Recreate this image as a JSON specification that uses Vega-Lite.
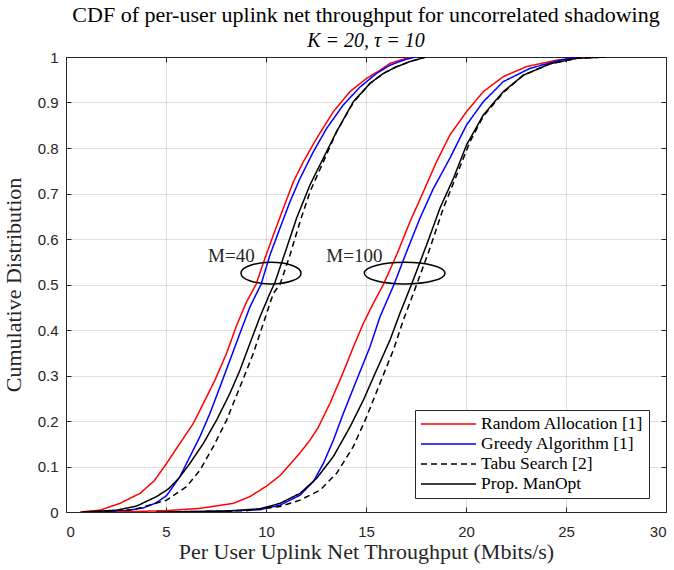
{
  "$schema": "https://vega.github.io/schema/vega-lite/v6.json",
  "width": 600,
  "height": 455,
  "autosize": {"type": "none"},
  "padding": {"left": 66, "top": 57, "right": 8, "bottom": 58},
  "background": "white",
  "title": {
    "text": "CDF of per-user uplink net throughput for uncorrelated shadowing",
    "subtitle": "K = 20, τ = 10",
    "anchor": "middle",
    "font": "Liberation Serif",
    "fontSize": 22,
    "fontWeight": "normal",
    "color": "#000000",
    "subtitleFont": "Liberation Serif",
    "subtitleFontSize": 20,
    "subtitleFontStyle": "italic",
    "subtitleColor": "#000000",
    "subtitlePadding": 4,
    "offset": -2
  },
  "config": {
    "view": {"stroke": null},
    "axis": {
      "grid": true,
      "gridColor": "#262626",
      "gridOpacity": 0.15,
      "gridWidth": 1,
      "domainColor": "#262626",
      "domainWidth": 1,
      "tickColor": "#262626",
      "tickSize": -5,
      "labelFont": "Liberation Sans",
      "labelFontSize": 15,
      "labelColor": "#262626",
      "titleFont": "Liberation Serif",
      "titleFontSize": 22,
      "titleFontWeight": "normal",
      "titleColor": "#262626"
    }
  },
  "layer": [
    {
      "data": {"values": [
        {"s":"Random Allocation [1]","M":40,"x":0.7,"y":0},{"s":"Random Allocation [1]","M":40,"x":1.7,"y":0.004},{"s":"Random Allocation [1]","M":40,"x":2.7,"y":0.019},{"s":"Random Allocation [1]","M":40,"x":3.7,"y":0.041},{"s":"Random Allocation [1]","M":40,"x":4.4,"y":0.068},{"s":"Random Allocation [1]","M":40,"x":5.0,"y":0.105},{"s":"Random Allocation [1]","M":40,"x":5.7,"y":0.151},{"s":"Random Allocation [1]","M":40,"x":6.37,"y":0.195},{"s":"Random Allocation [1]","M":40,"x":6.87,"y":0.239},{"s":"Random Allocation [1]","M":40,"x":7.45,"y":0.29},{"s":"Random Allocation [1]","M":40,"x":8.03,"y":0.349},{"s":"Random Allocation [1]","M":40,"x":8.53,"y":0.41},{"s":"Random Allocation [1]","M":40,"x":9.03,"y":0.462},{"s":"Random Allocation [1]","M":40,"x":9.5,"y":0.5},{"s":"Random Allocation [1]","M":40,"x":9.95,"y":0.558},{"s":"Random Allocation [1]","M":40,"x":10.37,"y":0.609},{"s":"Random Allocation [1]","M":40,"x":10.87,"y":0.668},{"s":"Random Allocation [1]","M":40,"x":11.37,"y":0.726},{"s":"Random Allocation [1]","M":40,"x":11.87,"y":0.77},{"s":"Random Allocation [1]","M":40,"x":12.53,"y":0.821},{"s":"Random Allocation [1]","M":40,"x":13.37,"y":0.88},{"s":"Random Allocation [1]","M":40,"x":14.2,"y":0.924},{"s":"Random Allocation [1]","M":40,"x":15.03,"y":0.953},{"s":"Random Allocation [1]","M":40,"x":15.7,"y":0.971},{"s":"Random Allocation [1]","M":40,"x":16.2,"y":0.986},{"s":"Random Allocation [1]","M":40,"x":17.0,"y":0.997},{"s":"Random Allocation [1]","M":40,"x":17.5,"y":1.0},
        {"s":"Greedy Algorithm [1]","M":40,"x":1.8,"y":0},{"s":"Greedy Algorithm [1]","M":40,"x":3.0,"y":0.003},{"s":"Greedy Algorithm [1]","M":40,"x":3.87,"y":0.009},{"s":"Greedy Algorithm [1]","M":40,"x":4.5,"y":0.02},{"s":"Greedy Algorithm [1]","M":40,"x":5.03,"y":0.036},{"s":"Greedy Algorithm [1]","M":40,"x":5.7,"y":0.078},{"s":"Greedy Algorithm [1]","M":40,"x":6.2,"y":0.122},{"s":"Greedy Algorithm [1]","M":40,"x":6.7,"y":0.166},{"s":"Greedy Algorithm [1]","M":40,"x":7.2,"y":0.217},{"s":"Greedy Algorithm [1]","M":40,"x":7.7,"y":0.275},{"s":"Greedy Algorithm [1]","M":40,"x":8.2,"y":0.334},{"s":"Greedy Algorithm [1]","M":40,"x":8.7,"y":0.393},{"s":"Greedy Algorithm [1]","M":40,"x":9.2,"y":0.451},{"s":"Greedy Algorithm [1]","M":40,"x":9.75,"y":0.5},{"s":"Greedy Algorithm [1]","M":40,"x":10.2,"y":0.565},{"s":"Greedy Algorithm [1]","M":40,"x":10.7,"y":0.624},{"s":"Greedy Algorithm [1]","M":40,"x":11.2,"y":0.682},{"s":"Greedy Algorithm [1]","M":40,"x":11.7,"y":0.733},{"s":"Greedy Algorithm [1]","M":40,"x":12.37,"y":0.792},{"s":"Greedy Algorithm [1]","M":40,"x":13.03,"y":0.843},{"s":"Greedy Algorithm [1]","M":40,"x":13.87,"y":0.895},{"s":"Greedy Algorithm [1]","M":40,"x":14.7,"y":0.934},{"s":"Greedy Algorithm [1]","M":40,"x":15.53,"y":0.964},{"s":"Greedy Algorithm [1]","M":40,"x":16.2,"y":0.982},{"s":"Greedy Algorithm [1]","M":40,"x":17.0,"y":0.995},{"s":"Greedy Algorithm [1]","M":40,"x":17.5,"y":1.0},
        {"s":"Tabu Search [2]","M":40,"x":1.5,"y":0},{"s":"Tabu Search [2]","M":40,"x":3.37,"y":0.005},{"s":"Tabu Search [2]","M":40,"x":5.03,"y":0.026},{"s":"Tabu Search [2]","M":40,"x":6.03,"y":0.056},{"s":"Tabu Search [2]","M":40,"x":6.7,"y":0.092},{"s":"Tabu Search [2]","M":40,"x":7.37,"y":0.144},{"s":"Tabu Search [2]","M":40,"x":8.03,"y":0.202},{"s":"Tabu Search [2]","M":40,"x":8.7,"y":0.275},{"s":"Tabu Search [2]","M":40,"x":9.37,"y":0.349},{"s":"Tabu Search [2]","M":40,"x":9.87,"y":0.415},{"s":"Tabu Search [2]","M":40,"x":10.37,"y":0.481},{"s":"Tabu Search [2]","M":40,"x":10.7,"y":0.5},{"s":"Tabu Search [2]","M":40,"x":11.2,"y":0.565},{"s":"Tabu Search [2]","M":40,"x":11.7,"y":0.638},{"s":"Tabu Search [2]","M":40,"x":12.2,"y":0.704},{"s":"Tabu Search [2]","M":40,"x":12.87,"y":0.77},{"s":"Tabu Search [2]","M":40,"x":13.53,"y":0.836},{"s":"Tabu Search [2]","M":40,"x":14.37,"y":0.9},{"s":"Tabu Search [2]","M":40,"x":15.2,"y":0.942},{"s":"Tabu Search [2]","M":40,"x":15.87,"y":0.964},{"s":"Tabu Search [2]","M":40,"x":16.5,"y":0.978},{"s":"Tabu Search [2]","M":40,"x":17.2,"y":0.99},{"s":"Tabu Search [2]","M":40,"x":18.0,"y":1.0},
        {"s":"Prop. ManOpt","M":40,"x":0.8,"y":0},{"s":"Prop. ManOpt","M":40,"x":2.53,"y":0.004},{"s":"Prop. ManOpt","M":40,"x":3.53,"y":0.013},{"s":"Prop. ManOpt","M":40,"x":4.53,"y":0.034},{"s":"Prop. ManOpt","M":40,"x":5.1,"y":0.05},{"s":"Prop. ManOpt","M":40,"x":5.6,"y":0.072},{"s":"Prop. ManOpt","M":40,"x":6.2,"y":0.107},{"s":"Prop. ManOpt","M":40,"x":6.87,"y":0.151},{"s":"Prop. ManOpt","M":40,"x":7.53,"y":0.202},{"s":"Prop. ManOpt","M":40,"x":8.2,"y":0.261},{"s":"Prop. ManOpt","M":40,"x":8.7,"y":0.312},{"s":"Prop. ManOpt","M":40,"x":9.2,"y":0.371},{"s":"Prop. ManOpt","M":40,"x":9.7,"y":0.429},{"s":"Prop. ManOpt","M":40,"x":10.2,"y":0.481},{"s":"Prop. ManOpt","M":40,"x":10.45,"y":0.505},{"s":"Prop. ManOpt","M":40,"x":11.03,"y":0.58},{"s":"Prop. ManOpt","M":40,"x":11.53,"y":0.646},{"s":"Prop. ManOpt","M":40,"x":12.2,"y":0.719},{"s":"Prop. ManOpt","M":40,"x":12.87,"y":0.778},{"s":"Prop. ManOpt","M":40,"x":13.53,"y":0.836},{"s":"Prop. ManOpt","M":40,"x":14.37,"y":0.902},{"s":"Prop. ManOpt","M":40,"x":15.2,"y":0.942},{"s":"Prop. ManOpt","M":40,"x":15.87,"y":0.964},{"s":"Prop. ManOpt","M":40,"x":16.5,"y":0.978},{"s":"Prop. ManOpt","M":40,"x":17.2,"y":0.99},{"s":"Prop. ManOpt","M":40,"x":18.0,"y":1.0},
        {"s":"Random Allocation [1]","M":100,"x":2.5,"y":0},{"s":"Random Allocation [1]","M":100,"x":5.03,"y":0.003},{"s":"Random Allocation [1]","M":100,"x":6.7,"y":0.008},{"s":"Random Allocation [1]","M":100,"x":8.37,"y":0.019},{"s":"Random Allocation [1]","M":100,"x":9.2,"y":0.034},{"s":"Random Allocation [1]","M":100,"x":10.03,"y":0.057},{"s":"Random Allocation [1]","M":100,"x":10.7,"y":0.08},{"s":"Random Allocation [1]","M":100,"x":11.2,"y":0.105},{"s":"Random Allocation [1]","M":100,"x":11.7,"y":0.13},{"s":"Random Allocation [1]","M":100,"x":12.2,"y":0.158},{"s":"Random Allocation [1]","M":100,"x":12.6,"y":0.185},{"s":"Random Allocation [1]","M":100,"x":13.2,"y":0.239},{"s":"Random Allocation [1]","M":100,"x":13.87,"y":0.308},{"s":"Random Allocation [1]","M":100,"x":14.37,"y":0.363},{"s":"Random Allocation [1]","M":100,"x":14.87,"y":0.415},{"s":"Random Allocation [1]","M":100,"x":15.37,"y":0.459},{"s":"Random Allocation [1]","M":100,"x":15.87,"y":0.5},{"s":"Random Allocation [1]","M":100,"x":16.53,"y":0.565},{"s":"Random Allocation [1]","M":100,"x":17.2,"y":0.638},{"s":"Random Allocation [1]","M":100,"x":17.87,"y":0.704},{"s":"Random Allocation [1]","M":100,"x":18.53,"y":0.77},{"s":"Random Allocation [1]","M":100,"x":19.2,"y":0.829},{"s":"Random Allocation [1]","M":100,"x":20.03,"y":0.88},{"s":"Random Allocation [1]","M":100,"x":20.87,"y":0.924},{"s":"Random Allocation [1]","M":100,"x":21.87,"y":0.957},{"s":"Random Allocation [1]","M":100,"x":23.03,"y":0.979},{"s":"Random Allocation [1]","M":100,"x":24.53,"y":0.993},{"s":"Random Allocation [1]","M":100,"x":26.0,"y":1.0},
        {"s":"Greedy Algorithm [1]","M":100,"x":5.0,"y":0},{"s":"Greedy Algorithm [1]","M":100,"x":8.0,"y":0.002},{"s":"Greedy Algorithm [1]","M":100,"x":9.7,"y":0.005},{"s":"Greedy Algorithm [1]","M":100,"x":10.7,"y":0.015},{"s":"Greedy Algorithm [1]","M":100,"x":11.7,"y":0.037},{"s":"Greedy Algorithm [1]","M":100,"x":12.37,"y":0.067},{"s":"Greedy Algorithm [1]","M":100,"x":12.87,"y":0.107},{"s":"Greedy Algorithm [1]","M":100,"x":13.37,"y":0.158},{"s":"Greedy Algorithm [1]","M":100,"x":13.87,"y":0.217},{"s":"Greedy Algorithm [1]","M":100,"x":14.53,"y":0.29},{"s":"Greedy Algorithm [1]","M":100,"x":15.2,"y":0.363},{"s":"Greedy Algorithm [1]","M":100,"x":15.7,"y":0.429},{"s":"Greedy Algorithm [1]","M":100,"x":16.4,"y":0.5},{"s":"Greedy Algorithm [1]","M":100,"x":17.03,"y":0.572},{"s":"Greedy Algorithm [1]","M":100,"x":17.7,"y":0.646},{"s":"Greedy Algorithm [1]","M":100,"x":18.37,"y":0.711},{"s":"Greedy Algorithm [1]","M":100,"x":19.2,"y":0.778},{"s":"Greedy Algorithm [1]","M":100,"x":20.03,"y":0.851},{"s":"Greedy Algorithm [1]","M":100,"x":20.87,"y":0.902},{"s":"Greedy Algorithm [1]","M":100,"x":21.87,"y":0.946},{"s":"Greedy Algorithm [1]","M":100,"x":23.2,"y":0.975},{"s":"Greedy Algorithm [1]","M":100,"x":24.7,"y":0.993},{"s":"Greedy Algorithm [1]","M":100,"x":25.5,"y":1.0},
        {"s":"Tabu Search [2]","M":100,"x":6.0,"y":0},{"s":"Tabu Search [2]","M":100,"x":9.0,"y":0.003},{"s":"Tabu Search [2]","M":100,"x":10.7,"y":0.012},{"s":"Tabu Search [2]","M":100,"x":11.7,"y":0.026},{"s":"Tabu Search [2]","M":100,"x":12.7,"y":0.048},{"s":"Tabu Search [2]","M":100,"x":13.53,"y":0.085},{"s":"Tabu Search [2]","M":100,"x":14.37,"y":0.144},{"s":"Tabu Search [2]","M":100,"x":15.03,"y":0.209},{"s":"Tabu Search [2]","M":100,"x":15.7,"y":0.283},{"s":"Tabu Search [2]","M":100,"x":16.37,"y":0.356},{"s":"Tabu Search [2]","M":100,"x":16.87,"y":0.422},{"s":"Tabu Search [2]","M":100,"x":17.45,"y":0.49},{"s":"Tabu Search [2]","M":100,"x":18.2,"y":0.58},{"s":"Tabu Search [2]","M":100,"x":18.87,"y":0.668},{"s":"Tabu Search [2]","M":100,"x":19.53,"y":0.74},{"s":"Tabu Search [2]","M":100,"x":20.2,"y":0.814},{"s":"Tabu Search [2]","M":100,"x":20.87,"y":0.87},{"s":"Tabu Search [2]","M":100,"x":21.87,"y":0.922},{"s":"Tabu Search [2]","M":100,"x":22.87,"y":0.96},{"s":"Tabu Search [2]","M":100,"x":24.2,"y":0.985},{"s":"Tabu Search [2]","M":100,"x":25.53,"y":0.997},{"s":"Tabu Search [2]","M":100,"x":27.0,"y":1.0},
        {"s":"Prop. ManOpt","M":100,"x":4.5,"y":0},{"s":"Prop. ManOpt","M":100,"x":8.0,"y":0.002},{"s":"Prop. ManOpt","M":100,"x":9.7,"y":0.007},{"s":"Prop. ManOpt","M":100,"x":10.7,"y":0.019},{"s":"Prop. ManOpt","M":100,"x":11.7,"y":0.041},{"s":"Prop. ManOpt","M":100,"x":12.53,"y":0.074},{"s":"Prop. ManOpt","M":100,"x":13.37,"y":0.122},{"s":"Prop. ManOpt","M":100,"x":14.2,"y":0.187},{"s":"Prop. ManOpt","M":100,"x":14.87,"y":0.246},{"s":"Prop. ManOpt","M":100,"x":15.53,"y":0.312},{"s":"Prop. ManOpt","M":100,"x":16.2,"y":0.378},{"s":"Prop. ManOpt","M":100,"x":16.7,"y":0.437},{"s":"Prop. ManOpt","M":100,"x":17.3,"y":0.503},{"s":"Prop. ManOpt","M":100,"x":18.03,"y":0.587},{"s":"Prop. ManOpt","M":100,"x":18.7,"y":0.668},{"s":"Prop. ManOpt","M":100,"x":19.37,"y":0.733},{"s":"Prop. ManOpt","M":100,"x":20.03,"y":0.807},{"s":"Prop. ManOpt","M":100,"x":20.87,"y":0.873},{"s":"Prop. ManOpt","M":100,"x":21.87,"y":0.924},{"s":"Prop. ManOpt","M":100,"x":22.87,"y":0.96},{"s":"Prop. ManOpt","M":100,"x":24.2,"y":0.985},{"s":"Prop. ManOpt","M":100,"x":25.53,"y":0.997},{"s":"Prop. ManOpt","M":100,"x":27.0,"y":1.0}
      ]},
      "mark": {"type": "line", "strokeWidth": 1.5, "clip": true},
      "encoding": {
        "x": {"field": "x", "type": "quantitative", "scale": {"domain": [0, 30], "nice": false},
              "axis": {"orient": "bottom", "values": [0,5,10,15,20,25,30], "title": "Per User Uplink Net Throughput (Mbits/s)", "labelPadding": 17, "titlePadding": 2}},
        "y": {"field": "y", "type": "quantitative", "scale": {"domain": [0, 1], "nice": false},
              "axis": {"orient": "left", "values": [0,0.1,0.2,0.3,0.4,0.5,0.6,0.7,0.8,0.9,1], "format": "~g", "title": "Cumulative Distribution", "labelPadding": 13, "titlePadding": 12}},
        "color": {"field": "s", "type": "nominal",
                  "scale": {"domain": ["Random Allocation [1]", "Greedy Algorithm [1]", "Tabu Search [2]", "Prop. ManOpt"], "range": ["#ff0000", "#0000ff", "#000000", "#000000"]},
                  "legend": {"title": null, "orient": "none", "legendX": 349, "legendY": 353, "symbolType": "M-1,0H5.875", "symbolSize": 256, "symbolStrokeWidth": 1.5, "labelOffset": 43, "labelFont": "Liberation Serif", "labelFontSize": 17.5, "labelLimit": 400, "labelColor": "#000000", "rowPadding": 2, "padding": 5, "strokeColor": "#262626", "fillColor": "#ffffff"}},
        "strokeDash": {"field": "s", "type": "nominal",
                  "scale": {"domain": ["Random Allocation [1]", "Greedy Algorithm [1]", "Tabu Search [2]", "Prop. ManOpt"], "range": [[1,0],[1,0],[6,4],[1,0]]},
                  "legend": {"title": null, "orient": "none", "legendX": 349, "legendY": 353, "symbolType": "M-1,0H5.875", "symbolSize": 256, "symbolStrokeWidth": 1.5, "labelOffset": 43, "labelFont": "Liberation Serif", "labelFontSize": 17.5, "labelLimit": 400, "labelColor": "#000000", "rowPadding": 2, "padding": 5, "strokeColor": "#262626", "fillColor": "#ffffff"}},
        "detail": {"field": "M", "type": "nominal"}
      }
    },
    {
      "data": {"values": [{"x": 10.25, "y": 0.525}]},
      "mark": {"type": "point", "shape": "M-1,0A1,0.362,0,1,1,1,0A1,0.362,0,1,1,-1,0Z", "size": 3600, "filled": false, "stroke": "#000000", "strokeWidth": 1.5, "opacity": 1},
      "encoding": {"x": {"field": "x", "type": "quantitative", "axis": null}, "y": {"field": "y", "type": "quantitative", "axis": null}}
    },
    {
      "data": {"values": [{"x": 16.93, "y": 0.525}]},
      "mark": {"type": "point", "shape": "M-1,0A1,0.269,0,1,1,1,0A1,0.269,0,1,1,-1,0Z", "size": 6512, "filled": false, "stroke": "#000000", "strokeWidth": 1.5, "opacity": 1},
      "encoding": {"x": {"field": "x", "type": "quantitative", "axis": null}, "y": {"field": "y", "type": "quantitative", "axis": null}}
    },
    {
      "data": {"values": [{"x": 8.27, "y": 0.55, "t": "M=40"}, {"x": 14.42, "y": 0.55, "t": "M=100"}]},
      "mark": {"type": "text", "font": "Liberation Serif", "fontSize": 19, "align": "center", "baseline": "alphabetic", "color": "#262626"},
      "encoding": {"x": {"field": "x", "type": "quantitative", "axis": null}, "y": {"field": "y", "type": "quantitative", "axis": null}, "text": {"field": "t"}}
    },
    {
      "data": {"values": [{"x": 0, "y": 0}]},
      "mark": {"type": "point", "opacity": 0},
      "encoding": {
        "x": {"field": "x", "type": "quantitative", "axis": {"orient": "top", "values": [0,5,10,15,20,25,30], "labels": false, "grid": false, "title": null}},
        "y": {"field": "y", "type": "quantitative", "axis": {"orient": "right", "values": [0,0.1,0.2,0.3,0.4,0.5,0.6,0.7,0.8,0.9,1], "labels": false, "grid": false, "title": null}}
      }
    }
  ],
  "resolve": {"axis": {"x": "independent", "y": "independent"}}
}
